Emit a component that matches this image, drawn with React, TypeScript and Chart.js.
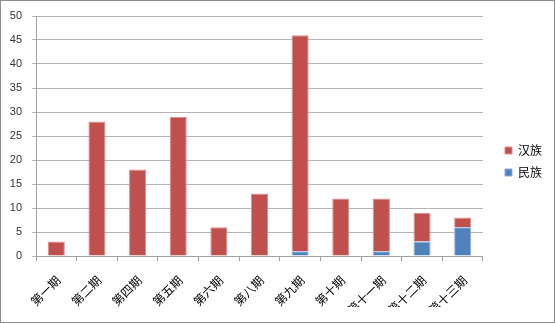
import React, { useEffect, useRef } from "react";
import { Chart, registerables } from "chart.js";

Chart.register(...registerables);

const categories = ["第一期", "第二期", "第四期", "第五期", "第六期", "第八期", "第九期", "第十期", "第十一期", "第十二期", "第十三期"];
const hanValues = [3, 28, 18, 29, 6, 13, 45, 12, 11, 6, 2];
const minValues = [0, 0, 0, 0, 0, 0, 1, 0, 1, 3, 6];
const yTicks = [0, 5, 10, 15, 20, 25, 30, 35, 40, 45, 50];

export default function App() {
  const ref = useRef<HTMLCanvasElement | null>(null);

  useEffect(() => {
    document.body.style.margin = "0";
    const canvas = ref.current;
    if (!canvas) return;
    const chart = new Chart(canvas, {
      type: "bar",
      data: {
        labels: categories,
        datasets: [
          {
            label: "民族",
            data: minValues.map((v) => (v === 0 ? null : v)),
            backgroundColor: "#4F81BD",
            borderColor: "#8DAFD9",
            borderWidth: 1,
            borderSkipped: "start",
          },
          {
            label: "汉族",
            data: hanValues.map((v) => (v === 0 ? null : v)),
            backgroundColor: "#C0504D",
            borderColor: "#DC8F8D",
            borderWidth: 1,
            borderSkipped: "start",
          },
        ],
      },
      options: {
        animation: false,
        responsive: false,
        maintainAspectRatio: false,
        layout: { padding: { top: 15, bottom: 15, left: 9, right: 2 } },
        datasets: { bar: { categoryPercentage: 1, barPercentage: 0.42 } },
        plugins: {
          tooltip: { enabled: false },
          legend: {
            position: "right",
            reverse: true,
            labels: {
              boxWidth: 7,
              boxHeight: 7,
              padding: 10,
              color: "#000",
              font: { family: "'Noto Sans CJK SC'", size: 12 },
            },
          },
        },
        scales: {
          x: {
            stacked: true,
            grid: { display: true, drawOnChartArea: false, drawTicks: true, tickLength: 5, offset: true, color: "#a0a0a0" },
            border: { color: "#a0a0a0" },
            ticks: {
              autoSkip: false,
              minRotation: 45,
              maxRotation: 45,
              padding: 12,
              labelOffset: 2,
              color: "#000",
              font: { family: "'Noto Sans CJK SC'", size: 12 },
            },
            afterFit: (s: any) => {
              s.height = 51;
              s.paddingLeft = 0;
              s.paddingRight = 0;
            },
          },
          y: {
            stacked: true,
            min: 0,
            max: 50,
            afterBuildTicks: (s: any) => {
              s.ticks = yTicks.map((v) => ({ value: v }));
            },
            afterFit: (s: any) => {
              s.width = 26;
              s.paddingTop = 0;
              s.paddingBottom = 0;
            },
            grid: { color: "#b4b4b4", tickLength: 4 },
            border: { color: "#a0a0a0" },
            ticks: {
              padding: 10,
              color: "#333",
              font: { family: "'Liberation Sans'", size: 11 },
            },
          },
          y2: {
            position: "right",
            display: true,
            grid: { display: false },
            border: { display: false },
            ticks: { display: false },
            afterFit: (s: any) => {
              s.width = 12;
            },
          },
        },
      },
    });
    return () => chart.destroy();
  }, []);

  return (
    <div style={{ width: 553, height: 321, border: "1px solid #8c8c8c", position: "relative", background: "#fff" }}>
      <canvas ref={ref} width={553} height={321} style={{ display: "block" }} />
    </div>
  );
}
